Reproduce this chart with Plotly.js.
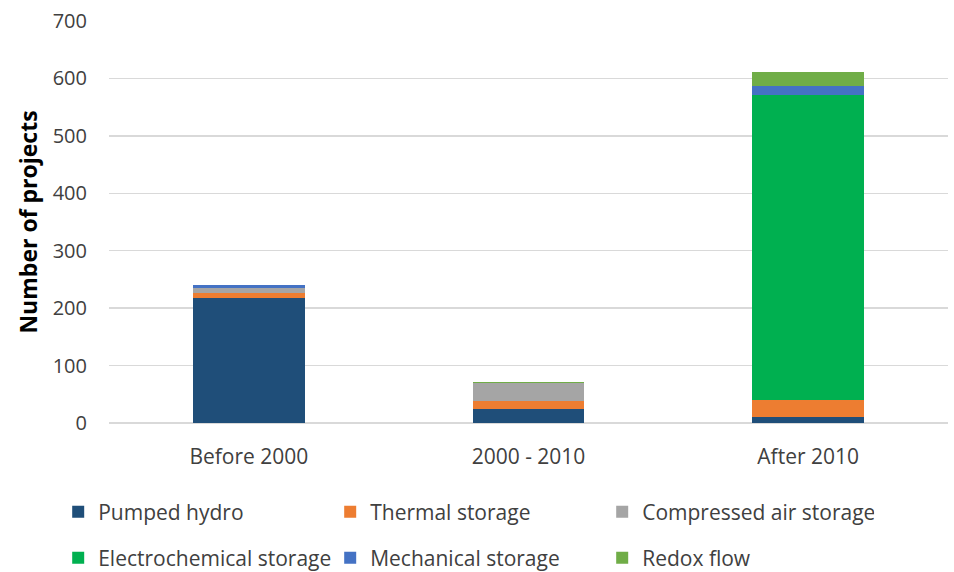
<!DOCTYPE html>
<html><head><meta charset="utf-8">
<script src="https://cdn.plot.ly/plotly-3.0.1.min.js"></script>
<style>body{margin:0;background:#fff}#c{width:954px;height:572px}</style>
</head><body><div id="c"></div>
<script>
const categories = ["Before 2000", "2000 - 2010", "After 2010"];
const pumpedHydro = [218, 24, 10];
const thermalStorage = [9, 14, 30];
const compressedAir = [8, 31, 0];
const electrochemical = [0, 0, 531];
const mechanical = [5, 0, 15];
const redoxFlow = [0, 2, 26];
const seriesNames = ["Pumped hydro", "Thermal storage", "Compressed air storage", "Electrochemical storage", "Mechanical storage", "Redox flow"];
const seriesColors = ["#1f4e79", "#ed7d31", "#a5a5a5", "#00b050", "#4472c4", "#70ad47"];
const yTicks = [0, 100, 200, 300, 400, 500, 600, 700];

const values = [pumpedHydro, thermalStorage, compressedAir, electrochemical, mechanical, redoxFlow];
const FONT = "'Open Sans', Lato, sans-serif";
const traces = values.map((v, i) => ({
  type: "bar", name: seriesNames[i], x: categories, y: v,
  marker: {color: seriesColors[i], line: {width: 0}},
  legend: i < 3 ? "legend" : "legend2",
  hoverinfo: "y+name"
}));
const legendBase = {
  orientation: "h", xref: "container", yref: "container", x: 0.061, xanchor: "left", yanchor: "middle",
  entrywidth: 227, entrywidthmode: "pixels", font: {family: FONT, size: 21, color: "#404040"},
  itemwidth: 30, traceorder: "normal", bgcolor: "rgba(0,0,0,0)"
};
const layout = {
  width: 954, height: 572, barmode: "stack", bargap: 0.6,
  margin: {l: 109, r: 6, t: 21, b: 149},
  paper_bgcolor: "#fff", plot_bgcolor: "#fff",
  font: {family: FONT, size: 18, color: "#595959"},
  xaxis: {type: "category", showgrid: false, zeroline: false, showline: false, ticks: "",
    tickfont: {size: 21, color: "#404040"}, ticklabelstandoff: 19},
  yaxis: {range: [0, 700], tickvals: yTicks, ticktext: yTicks.map(String), gridcolor: "#d9d9d9", gridwidth: 1.5,
    zeroline: true, zerolinecolor: "#d9d9d9", zerolinewidth: 1.5, showline: false, ticks: "",
    tickfont: {size: 20, color: "#404040"}, ticklabelstandoff: 21,
    title: {text: "<b>Number of projects</b>", font: {size: 23, color: "#000"}, standoff: 8}},
  showlegend: true,
  legend: Object.assign({}, legendBase, {y: 1 - 512/572}),
  legend2: Object.assign({}, legendBase, {y: 1 - 558/572})
};
Plotly.newPlot("c", traces, layout, {displayModeBar: false, staticPlot: true});
</script></body></html>
